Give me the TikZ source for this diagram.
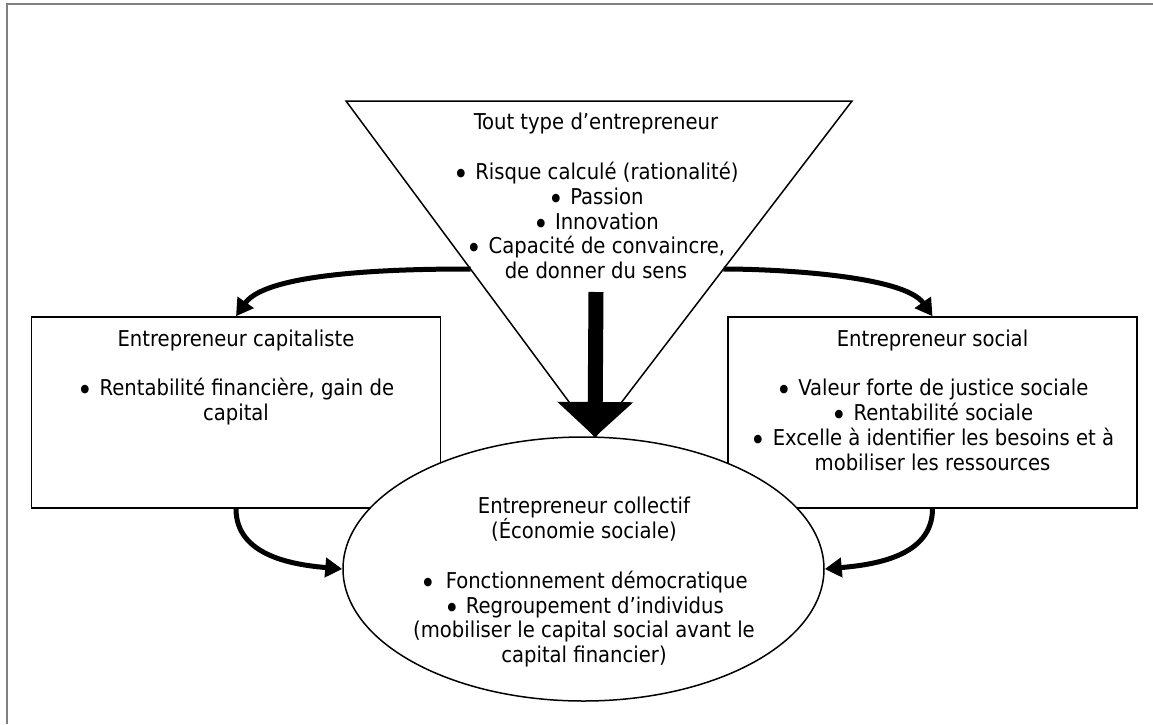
\documentclass[tikz,border=0pt]{standalone}
\usepackage{fontspec}
\setmainfont{DejaVu Sans Condensed}
\usetikzlibrary{arrows.meta,calc,positioning,shapes.geometric}
\definecolor{framegray}{HTML}{808080}
\newcommand{\puce}{\raisebox{-.42ex}{\scalebox{1.35}{\textbullet}}}

\tikzset{
	txt/.style={align=center, inner sep=0pt, font=\fontsize{10.9}{12.4}\selectfont},
	casebox/.style={draw, line width=.75pt, fill=white, minimum width=204.5pt, minimum height=95.5pt, inner sep=0pt},
	flow/.style={line width=2.5pt, -{Triangle[length=8.5pt,width=9.5pt]}},
}

\begin{document}
\begin{tikzpicture}[x=.5pt, y=-.5pt]
			\useasboundingbox (0,0) rectangle (1153,724);
			\draw[framegray, line width=1pt] (7,724) -- (7,4) -- (1153,4);
			
			\coordinate (tl) at (346,101); \coordinate (tr) at (852,101); \coordinate (tip) at (595,437);
			\draw[line width=.75pt] (tl) -- (tr) -- (tip) -- cycle;
			\node[txt, anchor=north] (tout) at (596,113) {Tout type d’entrepreneur\\[12.4pt]
				\puce{} Risque calculé (rationalité)\\ \puce{} Passion\\ \puce{} Innovation\\
				\puce{} Capacité de convaincre,\\ de donner du sens};
			
			\node[casebox] (capit) at (236,412.5) {};
			\node[txt, below=6.5pt of capit.north] (capittxt) {Entrepreneur capitaliste\\[12.4pt]
				\puce{} Rentabilité financière, gain de\\ capital};
			
			\node[casebox] (soc) at (932.5,412.5) {};
			\node[txt, below=6.5pt of soc.north] (soctxt) {Entrepreneur social\\[12.4pt]
				\puce{} Valeur forte de justice sociale\\ \puce{} Rentabilité sociale\\
				\puce{} Excelle à identifier les besoins et à\\ mobiliser les ressources};
			
			\node[draw, ellipse, fill=white, line width=.75pt, minimum width=240.5pt, minimum height=132pt] (coll) at (583.5,569) {};
			\node[txt, anchor=north] (colltxt) at (584,497) {Entrepreneur collectif\\ (Économie sociale)\\[12.4pt]
				\puce{}\, Fonctionnement démocratique\\ \puce{} Regroupement d’individus\\
				(mobiliser le capital social avant le\\ capital financier)};
			
			\coordinate (lout) at ($(tl)!.5!(tip)$); \coordinate (rout) at ($(tr)!.5!(tip)$);
			\draw[flow] (lout) to[out=180, in=55, looseness=.6] (capit.north);
			\draw[flow] (rout) to[out=0, in=125, looseness=.6] (soc.north);
			\draw[flow] (capit.south) to[out=-90, in=175] (coll.west);
			\draw[flow] (soc.south) to[out=-90, in=5] (coll.east);
			
			\coordinate (shaft) at ($(tip)+(1,-145)$);
			\draw[line width=7.5pt, -{Triangle[length=17.5pt,width=37pt]}] (shaft) -- (tip);
\end{tikzpicture}
\end{document}
